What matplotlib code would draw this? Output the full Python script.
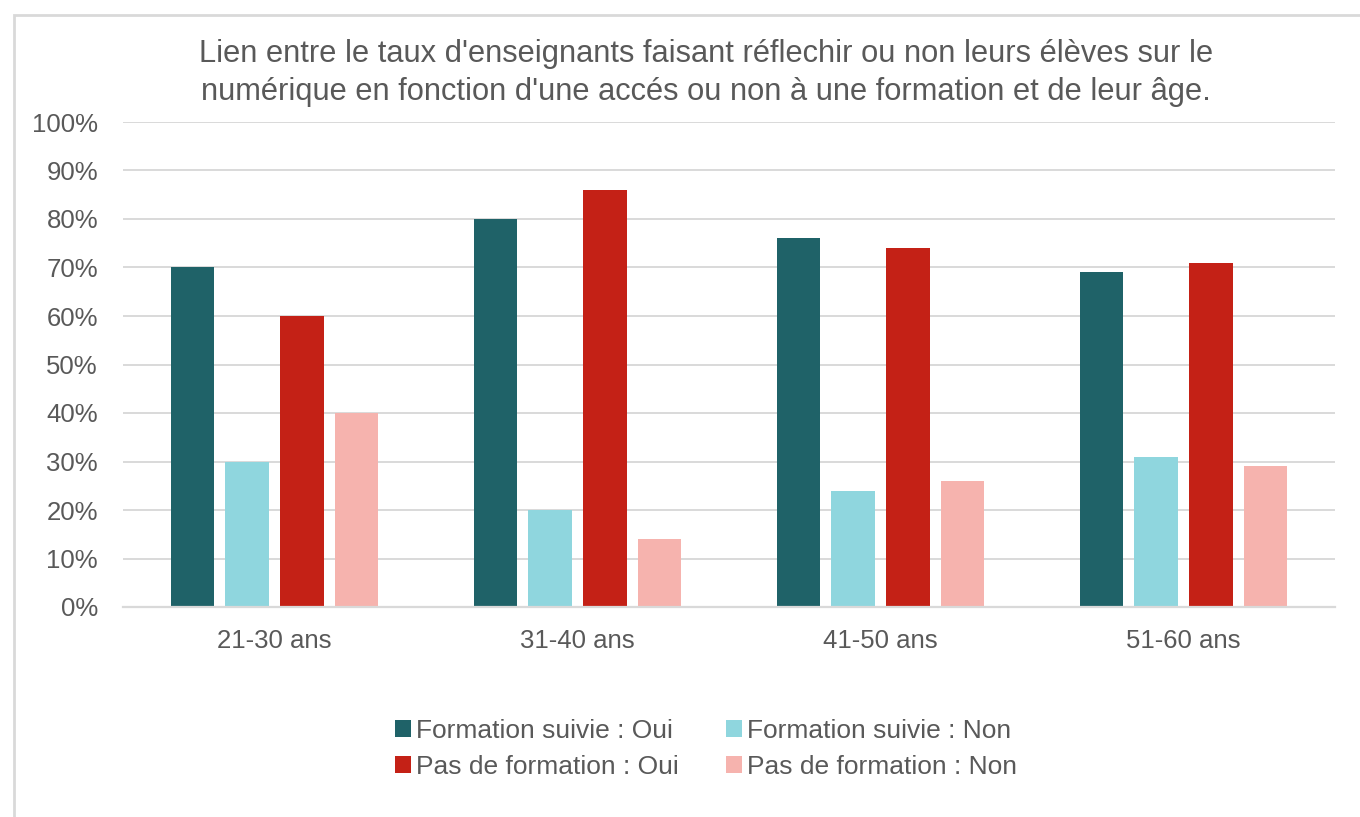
import matplotlib.pyplot as plt
import numpy as np
from matplotlib.patches import Rectangle
from matplotlib.ticker import PercentFormatter

plt.rcParams['font.family'] = ['Liberation Sans', 'DejaVu Sans']

categories = ["21-30 ans", "31-40 ans", "41-50 ans", "51-60 ans"]
series_names = ["Formation suivie : Oui", "Formation suivie : Non",
                "Pas de formation : Oui", "Pas de formation : Non"]
formation_oui = [70, 80, 76, 69]
formation_non = [30, 20, 24, 31]
pas_formation_oui = [60, 86, 74, 71]
pas_formation_non = [40, 14, 26, 29]
colors = ["#1F6268", "#8FD6DE", "#C42116", "#F6B3AE"]

title = ("Lien entre le taux d'enseignants faisant réflechir ou non leurs élèves sur le\n"
         "numérique en fonction d'une accés ou non à une formation et de leur âge.")

text_color = "#595959"
grid_color = "#D9D9D9"

fig = plt.figure(figsize=(13.6, 8.17), dpi=100)
ax = fig.add_axes([123/1360, 1 - 607/817, 1212/1360, 485/817])

# light frame around the chart
fig.patches.append(Rectangle((14/1360, -0.2), 2, 1.2 - 15/817, transform=fig.transFigure,
                             fill=False, edgecolor=grid_color, linewidth=2))

x = np.arange(len(categories))
width = 0.142
offsets = [-0.272, -0.0908, 0.0908, 0.272]
all_series = [formation_oui, formation_non, pas_formation_oui, pas_formation_non]
bars = []
for vals, off, col, name in zip(all_series, offsets, colors, series_names):
    bars.append(ax.bar(x + off, vals, width, color=col, label=name, zorder=3))

ax.set_xlim(-0.5, len(categories) - 0.5)
ax.set_ylim(0, 100)
ax.set_yticks(np.arange(0, 101, 10))
ax.yaxis.set_major_formatter(PercentFormatter(decimals=0))
ax.set_xticks(x)
ax.set_xticklabels(categories)
ax.grid(axis="y", color=grid_color, linewidth=1.4, zorder=0)
for s in ["top", "right", "left"]:
    ax.spines[s].set_visible(False)
ax.spines["bottom"].set_color(grid_color)
ax.spines["bottom"].set_linewidth(1.6)
ax.spines["bottom"].set_zorder(4)
ax.tick_params(axis="both", length=0, labelsize=18.5, colors=text_color)
ax.tick_params(axis="y", pad=18)
ax.tick_params(axis="x", pad=16)

fig.text(706/1360, 1 - 73/817, title, ha="center", va="center", fontsize=22.2,
         color=text_color, linespacing=1.32)

# row-major legend order: fill columns so rows read Oui/Non pairs
order = [0, 2, 1, 3]
leg = fig.legend([bars[i] for i in order], [series_names[i] for i in order],
                 loc="center", bbox_to_anchor=(706/1360, 1 - 749/817), ncol=2,
                 frameon=False, fontsize=19, handlelength=0.6, handleheight=0.6,
                 handletextpad=0.2, columnspacing=1.8, labelspacing=0.45)
for t in leg.get_texts():
    t.set_color(text_color)

fig.savefig("out.png", dpi=100)
